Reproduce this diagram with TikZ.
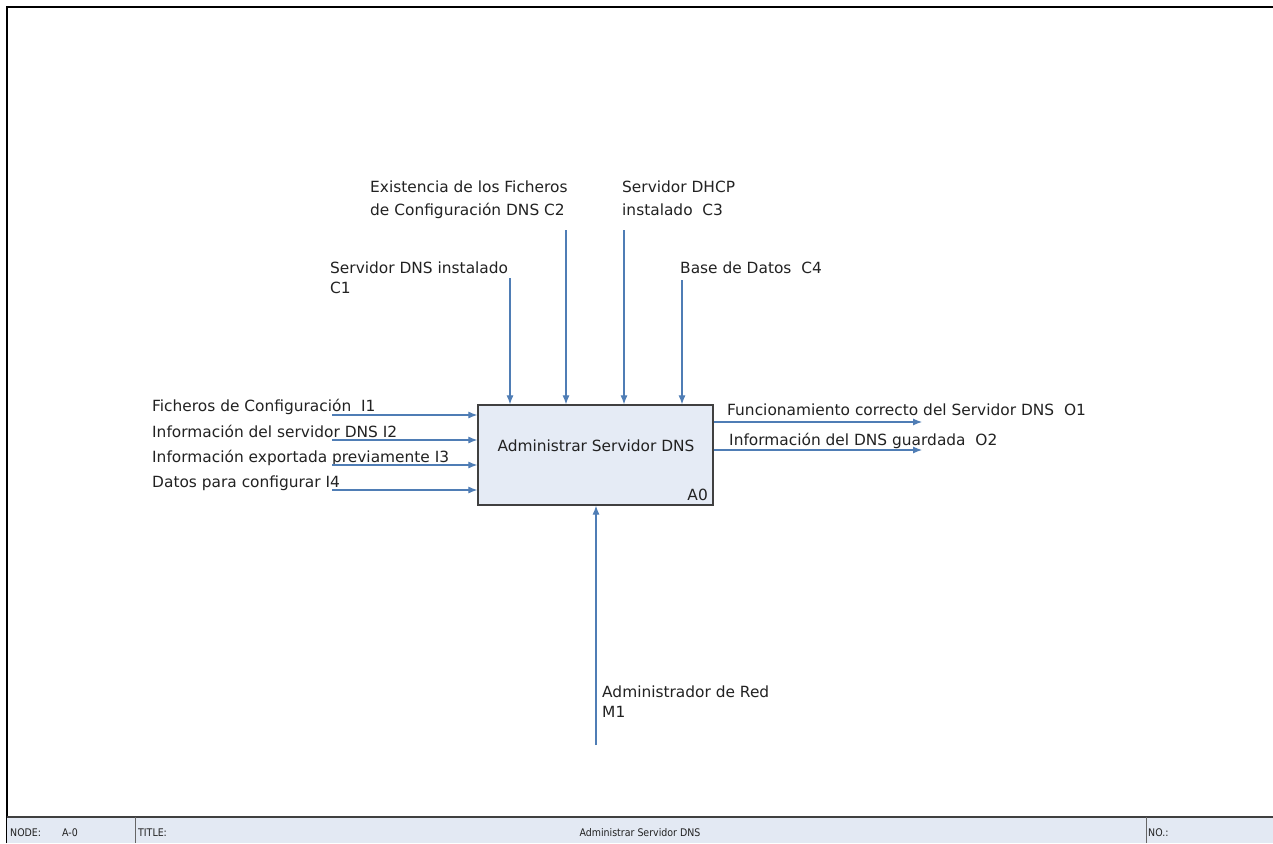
\documentclass[tikz,border=0pt]{standalone}
\usepackage{fontspec}
\setmainfont{DejaVu Sans}
\newfontfamily\barfont{DejaVu Sans Condensed}
\usetikzlibrary{arrows.meta}
\definecolor{flow}{HTML}{4F7DB5}
\definecolor{boxfill}{HTML}{E5EBF5}
\definecolor{barfill}{HTML}{E3E9F3}
\definecolor{ink}{HTML}{222222}
\begin{document}
\begin{tikzpicture}[x=1pt,y=-1pt,
  flowline/.style={draw=flow,line width=1.1pt,-{Latex[length=9pt,width=7pt]}},
  lbl/.style={font=\fontsize{15.4}{20}\selectfont,text=ink,inner sep=0pt,anchor=base west,align=left},
  barlbl/.style={font=\barfont\fontsize{10.5}{12}\selectfont,text=ink,inner sep=0pt,anchor=base west},
  activity/.style={draw=black!75,line width=1.3pt,fill=boxfill,minimum width=235pt,minimum height=100pt,inner sep=0pt}]
\useasboundingbox (0,0) rectangle (1273,843);
\fill[white] (0,0) rectangle (1273,843);
% sheet frame
\draw[line width=2pt,black] (7,843) -- (7,7) -- (1273,7);
% title bar
\fill[barfill] (7,817) rectangle (1273,843);
\draw[line width=1.6pt,black!75] (7,817) -- (1273,817);
\draw[line width=0.8pt,black!60] (135,817) -- (135,843) (1146,817) -- (1146,843);
\node[barlbl] (node) at (10,836) {NODE:};
\node[barlbl] (nodeid) at (62,836) {A-0};
\node[barlbl] (title) at (138,836) {TITLE:};
\node[barlbl,anchor=base] (titletext) at (640,836) {Administrar Servidor DNS};
\node[barlbl] (no) at (1148,836) {NO.:};

% activity box
\node[activity] (box) at (595.5,455) {};
\node[lbl,anchor=center] (boxtitle) at (596,446) {Administrar Servidor DNS};
\node[lbl,anchor=base east] (boxid) at (708,500) {A0};

% inputs
\coordinate (i1) at (332,415);
\coordinate (i2) at (332,440);
\coordinate (i3) at (332,465);
\coordinate (i4) at (332,490);
\node[lbl] (i1l) at (152,411) {Ficheros de Configuración\ \ I1};
\node[lbl] (i2l) at (152,437) {Información del servidor DNS I2};
\node[lbl] (i3l) at (152,462) {Información exportada previamente I3};
\node[lbl] (i4l) at (152,487) {Datos para configurar I4};
\foreach \i in {i1,i2,i3,i4}
  \draw[flowline] (\i) -- (box.west |- \i);

% controls (base anchor sits on the last line of each label)
\coordinate (c1) at (510,278);
\coordinate (c2) at (566,230);
\coordinate (c3) at (624,230);
\coordinate (c4) at (682,280);
\node[lbl] (c1l) at (330,293) {Servidor DNS instalado\\C1};
\node[lbl] (c2l) at (370,215) {Existencia de los Ficheros\\[3pt]de Configuración DNS C2};
\node[lbl] (c3l) at (622,215) {Servidor DHCP\\[3pt]instalado\ \ C3};
\node[lbl] (c4l) at (680,273) {Base de Datos\ \ C4};
\foreach \c in {c1,c2,c3,c4}
  \draw[flowline] (\c) -- (\c |- box.north);

% outputs
\coordinate (o1) at (922,422);
\coordinate (o2) at (922,450);
\node[lbl] (o1l) at (727,415) {Funcionamiento correcto del Servidor DNS\ \ O1};
\node[lbl] (o2l) at (729,445) {Información del DNS guardada\ \ O2};
\foreach \o in {o1,o2}
  \draw[flowline] (box.east |- \o) -- (\o);

% mechanism
\coordinate (m1) at (596,745);
\node[lbl] (m1l) at (602,717) {Administrador de Red\\M1};
\draw[flowline] (m1) -- (m1 |- box.south);
\end{tikzpicture}
\end{document}
